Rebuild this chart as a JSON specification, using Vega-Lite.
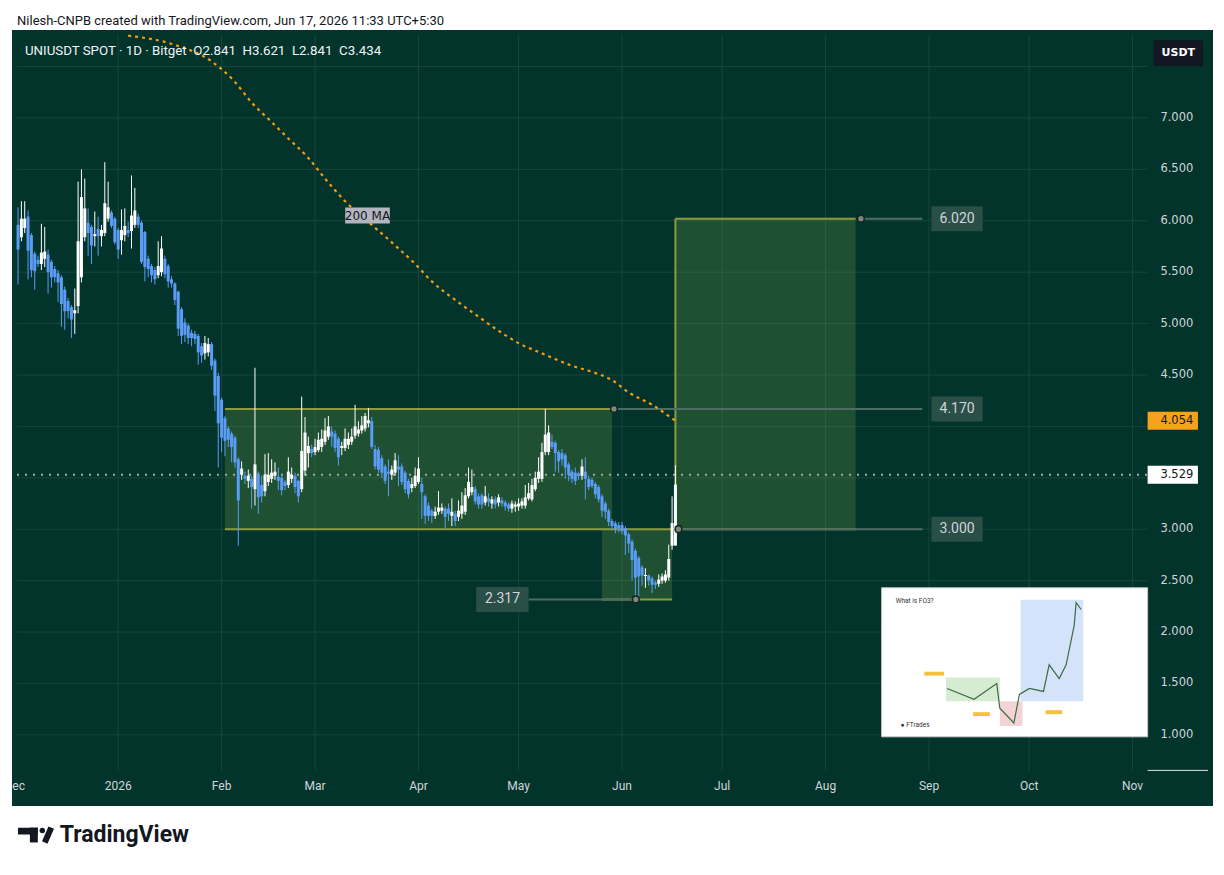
{
"$schema": "https://vega.github.io/schema/vega-lite/v6.json",
"width": 1201, "height": 776,
"autosize": {"type": "none"},
"padding": {"left": 12, "top": 30, "right": 11, "bottom": 69},
"background": "#ffffff",
"config": {"view": {"stroke": null, "fill": "#03342b"}, "text": {"font": "Roboto"}},
"datasets": {
"candles": [
{"date":"2025-12-02","open":5.96,"high":6.13,"low":5.38,"close":5.72},
{"date":"2025-12-03","open":5.84,"high":6.19,"low":5.80,"close":6.02},
{"date":"2025-12-04","open":5.93,"high":6.19,"low":5.88,"close":6.02},
{"date":"2025-12-05","open":6.04,"high":6.10,"low":5.43,"close":5.71},
{"date":"2025-12-06","open":5.86,"high":5.88,"low":5.45,"close":5.52},
{"date":"2025-12-07","open":5.68,"high":5.70,"low":5.33,"close":5.51},
{"date":"2025-12-08","open":5.62,"high":5.66,"low":5.55,"close":5.58},
{"date":"2025-12-09","open":5.58,"high":5.97,"low":5.52,"close":5.69},
{"date":"2025-12-10","open":5.63,"high":5.94,"low":5.55,"close":5.70},
{"date":"2025-12-11","open":5.67,"high":5.72,"low":5.29,"close":5.50},
{"date":"2025-12-12","open":5.60,"high":5.62,"low":5.35,"close":5.45},
{"date":"2025-12-13","open":5.53,"high":5.56,"low":5.40,"close":5.45},
{"date":"2025-12-14","open":5.49,"high":5.52,"low":5.21,"close":5.40},
{"date":"2025-12-15","open":5.45,"high":5.47,"low":4.97,"close":5.19},
{"date":"2025-12-16","open":5.33,"high":5.36,"low":4.94,"close":5.12},
{"date":"2025-12-17","open":5.22,"high":5.25,"low":5.05,"close":5.12},
{"date":"2025-12-18","open":5.16,"high":5.18,"low":4.86,"close":5.04},
{"date":"2025-12-19","open":5.10,"high":5.34,"low":4.90,"close":5.13},
{"date":"2025-12-20","open":5.17,"high":6.38,"low":5.10,"close":5.80},
{"date":"2025-12-21","open":5.45,"high":6.50,"low":5.40,"close":6.23},
{"date":"2025-12-22","open":5.84,"high":6.41,"low":5.80,"close":6.12},
{"date":"2025-12-23","open":5.98,"high":6.12,"low":5.66,"close":5.88},
{"date":"2025-12-24","open":5.94,"high":5.96,"low":5.58,"close":5.76},
{"date":"2025-12-25","open":5.85,"high":6.09,"low":5.75,"close":5.87},
{"date":"2025-12-26","open":5.92,"high":6.04,"low":5.66,"close":5.85},
{"date":"2025-12-27","open":5.85,"high":5.96,"low":5.75,"close":5.91},
{"date":"2025-12-28","open":5.88,"high":6.57,"low":5.85,"close":6.17},
{"date":"2025-12-29","open":6.02,"high":6.38,"low":5.99,"close":6.13},
{"date":"2025-12-30","open":6.08,"high":6.10,"low":5.93,"close":5.95},
{"date":"2025-12-31","open":6.02,"high":6.04,"low":5.77,"close":5.79},
{"date":"2026-01-01","open":5.91,"high":5.93,"low":5.63,"close":5.72},
{"date":"2026-01-02","open":5.81,"high":6.11,"low":5.67,"close":5.91},
{"date":"2026-01-03","open":5.86,"high":6.12,"low":5.80,"close":5.95},
{"date":"2026-01-04","open":5.91,"high":5.99,"low":5.84,"close":5.88},
{"date":"2026-01-05","open":5.90,"high":6.44,"low":5.73,"close":6.05},
{"date":"2026-01-06","open":5.96,"high":6.32,"low":5.93,"close":6.10},
{"date":"2026-01-07","open":6.04,"high":6.07,"low":5.93,"close":5.96},
{"date":"2026-01-08","open":5.98,"high":6.00,"low":5.58,"close":5.60},
{"date":"2026-01-09","open":5.89,"high":5.90,"low":5.41,"close":5.55},
{"date":"2026-01-10","open":5.63,"high":5.66,"low":5.45,"close":5.53},
{"date":"2026-01-11","open":5.56,"high":5.58,"low":5.40,"close":5.47},
{"date":"2026-01-12","open":5.52,"high":5.55,"low":5.38,"close":5.43},
{"date":"2026-01-13","open":5.47,"high":5.80,"low":5.44,"close":5.56},
{"date":"2026-01-14","open":5.50,"high":5.85,"low":5.46,"close":5.73},
{"date":"2026-01-15","open":5.63,"high":5.66,"low":5.44,"close":5.48},
{"date":"2026-01-16","open":5.56,"high":5.58,"low":5.35,"close":5.41},
{"date":"2026-01-17","open":5.43,"high":5.46,"low":5.35,"close":5.39},
{"date":"2026-01-18","open":5.39,"high":5.40,"low":5.18,"close":5.23},
{"date":"2026-01-19","open":5.31,"high":5.32,"low":4.88,"close":4.95},
{"date":"2026-01-20","open":5.14,"high":5.16,"low":4.80,"close":4.88},
{"date":"2026-01-21","open":5.01,"high":5.05,"low":4.82,"close":4.89},
{"date":"2026-01-22","open":4.98,"high":5.00,"low":4.80,"close":4.86},
{"date":"2026-01-23","open":4.91,"high":4.94,"low":4.78,"close":4.86},
{"date":"2026-01-24","open":4.90,"high":4.93,"low":4.80,"close":4.85},
{"date":"2026-01-25","open":4.88,"high":4.90,"low":4.60,"close":4.72},
{"date":"2026-01-26","open":4.78,"high":4.81,"low":4.62,"close":4.69},
{"date":"2026-01-27","open":4.71,"high":4.88,"low":4.65,"close":4.81},
{"date":"2026-01-28","open":4.72,"high":4.86,"low":4.68,"close":4.80},
{"date":"2026-01-29","open":4.80,"high":4.82,"low":4.55,"close":4.59},
{"date":"2026-01-30","open":4.64,"high":4.66,"low":4.15,"close":4.30},
{"date":"2026-01-31","open":4.49,"high":4.52,"low":3.60,"close":4.03},
{"date":"2026-02-01","open":4.26,"high":4.28,"low":3.75,"close":3.89},
{"date":"2026-02-02","open":4.08,"high":4.10,"low":3.71,"close":3.86},
{"date":"2026-02-03","open":3.98,"high":4.00,"low":3.80,"close":3.87},
{"date":"2026-02-04","open":3.93,"high":3.95,"low":3.65,"close":3.80},
{"date":"2026-02-05","open":3.89,"high":3.91,"low":3.60,"close":3.65},
{"date":"2026-02-06","open":3.68,"high":3.70,"low":2.84,"close":3.28},
{"date":"2026-02-07","open":3.53,"high":3.66,"low":3.48,"close":3.59},
{"date":"2026-02-08","open":3.52,"high":3.56,"low":3.44,"close":3.49},
{"date":"2026-02-09","open":3.47,"high":3.58,"low":3.40,"close":3.52},
{"date":"2026-02-10","open":3.49,"high":3.52,"low":3.20,"close":3.41},
{"date":"2026-02-11","open":3.39,"high":4.57,"low":3.23,"close":3.63},
{"date":"2026-02-12","open":3.54,"high":3.56,"low":3.15,"close":3.31},
{"date":"2026-02-13","open":3.43,"high":3.52,"low":3.26,"close":3.32},
{"date":"2026-02-14","open":3.37,"high":3.73,"low":3.32,"close":3.53},
{"date":"2026-02-15","open":3.46,"high":3.74,"low":3.42,"close":3.53},
{"date":"2026-02-16","open":3.49,"high":3.68,"low":3.45,"close":3.55},
{"date":"2026-02-17","open":3.52,"high":3.65,"low":3.48,"close":3.56},
{"date":"2026-02-18","open":3.51,"high":3.60,"low":3.38,"close":3.47},
{"date":"2026-02-19","open":3.50,"high":3.52,"low":3.33,"close":3.38},
{"date":"2026-02-20","open":3.46,"high":3.48,"low":3.38,"close":3.42},
{"date":"2026-02-21","open":3.43,"high":3.70,"low":3.40,"close":3.56},
{"date":"2026-02-22","open":3.49,"high":3.60,"low":3.45,"close":3.53},
{"date":"2026-02-23","open":3.52,"high":3.55,"low":3.35,"close":3.41},
{"date":"2026-02-24","open":3.47,"high":3.48,"low":3.26,"close":3.32},
{"date":"2026-02-25","open":3.39,"high":4.29,"low":3.36,"close":3.76},
{"date":"2026-02-26","open":3.57,"high":4.09,"low":3.52,"close":3.94},
{"date":"2026-02-27","open":3.74,"high":3.90,"low":3.60,"close":3.81},
{"date":"2026-02-28","open":3.78,"high":3.82,"low":3.70,"close":3.74},
{"date":"2026-03-01","open":3.75,"high":3.88,"low":3.72,"close":3.80},
{"date":"2026-03-02","open":3.77,"high":3.94,"low":3.75,"close":3.87},
{"date":"2026-03-03","open":3.80,"high":3.97,"low":3.75,"close":3.88},
{"date":"2026-03-04","open":3.85,"high":4.08,"low":3.82,"close":3.96},
{"date":"2026-03-05","open":3.90,"high":4.10,"low":3.87,"close":4.00},
{"date":"2026-03-06","open":3.95,"high":4.00,"low":3.80,"close":3.90},
{"date":"2026-03-07","open":3.93,"high":3.96,"low":3.75,"close":3.79},
{"date":"2026-03-08","open":3.88,"high":3.90,"low":3.62,"close":3.70},
{"date":"2026-03-09","open":3.79,"high":3.85,"low":3.72,"close":3.81},
{"date":"2026-03-10","open":3.79,"high":3.98,"low":3.76,"close":3.88},
{"date":"2026-03-11","open":3.82,"high":3.94,"low":3.78,"close":3.88},
{"date":"2026-03-12","open":3.85,"high":3.98,"low":3.82,"close":3.90},
{"date":"2026-03-13","open":3.91,"high":4.21,"low":3.88,"close":4.00},
{"date":"2026-03-14","open":3.93,"high":4.05,"low":3.90,"close":3.97},
{"date":"2026-03-15","open":3.96,"high":4.10,"low":3.93,"close":4.01},
{"date":"2026-03-16","open":3.98,"high":4.13,"low":3.95,"close":4.10},
{"date":"2026-03-17","open":4.03,"high":4.18,"low":3.99,"close":4.06},
{"date":"2026-03-18","open":4.05,"high":4.09,"low":3.78,"close":3.80},
{"date":"2026-03-19","open":3.78,"high":3.82,"low":3.58,"close":3.61},
{"date":"2026-03-20","open":3.77,"high":3.80,"low":3.55,"close":3.58},
{"date":"2026-03-21","open":3.69,"high":3.72,"low":3.50,"close":3.55},
{"date":"2026-03-22","open":3.61,"high":3.63,"low":3.44,"close":3.47},
{"date":"2026-03-23","open":3.56,"high":3.68,"low":3.32,"close":3.54},
{"date":"2026-03-24","open":3.53,"high":3.62,"low":3.48,"close":3.58},
{"date":"2026-03-25","open":3.55,"high":3.74,"low":3.52,"close":3.67},
{"date":"2026-03-26","open":3.61,"high":3.72,"low":3.42,"close":3.58},
{"date":"2026-03-27","open":3.61,"high":3.64,"low":3.43,"close":3.46},
{"date":"2026-03-28","open":3.55,"high":3.57,"low":3.35,"close":3.39},
{"date":"2026-03-29","open":3.47,"high":3.49,"low":3.30,"close":3.34},
{"date":"2026-03-30","open":3.40,"high":3.50,"low":3.36,"close":3.44},
{"date":"2026-03-31","open":3.42,"high":3.60,"low":3.40,"close":3.52},
{"date":"2026-04-01","open":3.46,"high":3.70,"low":3.44,"close":3.59},
{"date":"2026-04-02","open":3.44,"high":3.50,"low":3.10,"close":3.36},
{"date":"2026-04-03","open":3.32,"high":3.34,"low":3.05,"close":3.13},
{"date":"2026-04-04","open":3.23,"high":3.26,"low":3.08,"close":3.13},
{"date":"2026-04-05","open":3.18,"high":3.20,"low":3.06,"close":3.13},
{"date":"2026-04-06","open":3.13,"high":3.22,"low":3.10,"close":3.17},
{"date":"2026-04-07","open":3.17,"high":3.37,"low":3.14,"close":3.21},
{"date":"2026-04-08","open":3.18,"high":3.25,"low":3.15,"close":3.21},
{"date":"2026-04-09","open":3.20,"high":3.22,"low":3.00,"close":3.12},
{"date":"2026-04-10","open":3.20,"high":3.25,"low":3.08,"close":3.15},
{"date":"2026-04-11","open":3.13,"high":3.30,"low":3.03,"close":3.17},
{"date":"2026-04-12","open":3.15,"high":3.18,"low":3.03,"close":3.08},
{"date":"2026-04-13","open":3.12,"high":3.28,"low":3.08,"close":3.18},
{"date":"2026-04-14","open":3.15,"high":3.36,"low":3.10,"close":3.23},
{"date":"2026-04-15","open":3.17,"high":3.40,"low":3.14,"close":3.33},
{"date":"2026-04-16","open":3.32,"high":3.60,"low":3.30,"close":3.46},
{"date":"2026-04-17","open":3.36,"high":3.58,"low":3.33,"close":3.41},
{"date":"2026-04-18","open":3.39,"high":3.42,"low":3.24,"close":3.27},
{"date":"2026-04-19","open":3.32,"high":3.35,"low":3.20,"close":3.24},
{"date":"2026-04-20","open":3.33,"high":3.35,"low":3.20,"close":3.24},
{"date":"2026-04-21","open":3.26,"high":3.42,"low":3.23,"close":3.32},
{"date":"2026-04-22","open":3.30,"high":3.35,"low":3.22,"close":3.27},
{"date":"2026-04-23","open":3.25,"high":3.32,"low":3.20,"close":3.29},
{"date":"2026-04-24","open":3.29,"high":3.32,"low":3.20,"close":3.24},
{"date":"2026-04-25","open":3.26,"high":3.34,"low":3.22,"close":3.31},
{"date":"2026-04-26","open":3.28,"high":3.31,"low":3.22,"close":3.25},
{"date":"2026-04-27","open":3.26,"high":3.28,"low":3.18,"close":3.22},
{"date":"2026-04-28","open":3.24,"high":3.26,"low":3.17,"close":3.20},
{"date":"2026-04-29","open":3.20,"high":3.28,"low":3.16,"close":3.25},
{"date":"2026-04-30","open":3.22,"high":3.27,"low":3.17,"close":3.24},
{"date":"2026-05-01","open":3.22,"high":3.30,"low":3.18,"close":3.25},
{"date":"2026-05-02","open":3.23,"high":3.30,"low":3.20,"close":3.27},
{"date":"2026-05-03","open":3.23,"high":3.43,"low":3.20,"close":3.31},
{"date":"2026-05-04","open":3.30,"high":3.45,"low":3.28,"close":3.35},
{"date":"2026-05-05","open":3.29,"high":3.49,"low":3.27,"close":3.43},
{"date":"2026-05-06","open":3.39,"high":3.56,"low":3.37,"close":3.50},
{"date":"2026-05-07","open":3.49,"high":3.70,"low":3.45,"close":3.56},
{"date":"2026-05-08","open":3.49,"high":3.84,"low":3.46,"close":3.75},
{"date":"2026-05-09","open":3.75,"high":4.17,"low":3.72,"close":3.92},
{"date":"2026-05-10","open":3.75,"high":4.01,"low":3.72,"close":3.94},
{"date":"2026-05-11","open":3.85,"high":3.92,"low":3.78,"close":3.80},
{"date":"2026-05-12","open":3.84,"high":3.86,"low":3.56,"close":3.74},
{"date":"2026-05-13","open":3.75,"high":3.77,"low":3.55,"close":3.66},
{"date":"2026-05-14","open":3.74,"high":3.78,"low":3.62,"close":3.68},
{"date":"2026-05-15","open":3.72,"high":3.74,"low":3.49,"close":3.60},
{"date":"2026-05-16","open":3.63,"high":3.65,"low":3.47,"close":3.53},
{"date":"2026-05-17","open":3.56,"high":3.58,"low":3.45,"close":3.49},
{"date":"2026-05-18","open":3.55,"high":3.60,"low":3.43,"close":3.47},
{"date":"2026-05-19","open":3.54,"high":3.56,"low":3.48,"close":3.52},
{"date":"2026-05-20","open":3.52,"high":3.68,"low":3.48,"close":3.61},
{"date":"2026-05-21","open":3.56,"high":3.70,"low":3.29,"close":3.49},
{"date":"2026-05-22","open":3.49,"high":3.52,"low":3.38,"close":3.41},
{"date":"2026-05-23","open":3.48,"high":3.50,"low":3.40,"close":3.42},
{"date":"2026-05-24","open":3.44,"high":3.46,"low":3.30,"close":3.34},
{"date":"2026-05-25","open":3.41,"high":3.43,"low":3.26,"close":3.29},
{"date":"2026-05-26","open":3.32,"high":3.34,"low":3.12,"close":3.18},
{"date":"2026-05-27","open":3.25,"high":3.27,"low":3.10,"close":3.17},
{"date":"2026-05-28","open":3.18,"high":3.20,"low":3.03,"close":3.07},
{"date":"2026-05-29","open":3.08,"high":3.10,"low":2.99,"close":3.03},
{"date":"2026-05-30","open":3.06,"high":3.08,"low":2.96,"close":3.00},
{"date":"2026-05-31","open":3.04,"high":3.07,"low":2.97,"close":3.01},
{"date":"2026-06-01","open":3.04,"high":3.07,"low":2.95,"close":2.98},
{"date":"2026-06-02","open":3.01,"high":3.03,"low":2.75,"close":2.94},
{"date":"2026-06-03","open":2.95,"high":2.97,"low":2.77,"close":2.86},
{"date":"2026-06-04","open":2.88,"high":2.90,"low":2.50,"close":2.70},
{"date":"2026-06-05","open":2.79,"high":2.81,"low":2.317,"close":2.53},
{"date":"2026-06-06","open":2.72,"high":2.74,"low":2.33,"close":2.54},
{"date":"2026-06-07","open":2.63,"high":2.65,"low":2.45,"close":2.55},
{"date":"2026-06-08","open":2.545,"high":2.62,"low":2.43,"close":2.555},
{"date":"2026-06-09","open":2.55,"high":2.56,"low":2.45,"close":2.50},
{"date":"2026-06-10","open":2.52,"high":2.54,"low":2.38,"close":2.46},
{"date":"2026-06-11","open":2.48,"high":2.50,"low":2.42,"close":2.46},
{"date":"2026-06-12","open":2.47,"high":2.56,"low":2.44,"close":2.51},
{"date":"2026-06-13","open":2.50,"high":2.57,"low":2.47,"close":2.54},
{"date":"2026-06-14","open":2.50,"high":2.60,"low":2.48,"close":2.56},
{"date":"2026-06-15","open":2.53,"high":2.85,"low":2.50,"close":2.71},
{"date":"2026-06-16","open":2.84,"high":3.32,"low":2.80,"close":3.06},
{"date":"2026-06-17","open":2.841,"high":3.621,"low":2.841,"close":3.434}
],
"ma": [
{"date":"2026-01-04","ma":7.80},{"date":"2026-01-18","ma":7.71},{"date":"2026-01-29","ma":7.55},{"date":"2026-02-05","ma":7.35},{"date":"2026-02-10","ma":7.15},{"date":"2026-02-16","ma":6.96},{"date":"2026-02-21","ma":6.80},{"date":"2026-02-27","ma":6.61},{"date":"2026-03-04","ma":6.41},{"date":"2026-03-10","ma":6.19},{"date":"2026-03-18","ma":5.96},{"date":"2026-03-25","ma":5.76},{"date":"2026-03-31","ma":5.58},{"date":"2026-04-05","ma":5.41},{"date":"2026-04-12","ma":5.23},{"date":"2026-04-18","ma":5.09},{"date":"2026-04-25","ma":4.93},{"date":"2026-05-01","ma":4.81},{"date":"2026-05-08","ma":4.71},{"date":"2026-05-17","ma":4.59},{"date":"2026-05-24","ma":4.52},{"date":"2026-05-29","ma":4.45},{"date":"2026-06-03","ma":4.33},{"date":"2026-06-10","ma":4.21},{"date":"2026-06-17","ma":4.054}
],
"months": [
{"month":"2025-12-01","label":"Dec"},{"month":"2026-01-01","label":"2026"},{"month":"2026-02-01","label":"Feb"},{"month":"2026-03-01","label":"Mar"},{"month":"2026-04-01","label":"Apr"},{"month":"2026-05-01","label":"May"},{"month":"2026-06-01","label":"Jun"},{"month":"2026-07-01","label":"Jul"},{"month":"2026-08-01","label":"Aug"},{"month":"2026-09-01","label":"Sep"},{"month":"2026-10-01","label":"Oct"},{"month":"2026-11-01","label":"Nov"}
]
},
"layer": [
{"data": {"values": [{"level":1},{"level":1.5},{"level":2},{"level":2.5},{"level":3},{"level":3.5},{"level":4},{"level":4.5},{"level":5},{"level":5.5},{"level":6},{"level":6.5},{"level":7},{"level":7.5}]},
 "mark": {"type": "rule", "color": "#17473c", "strokeWidth": 1},
 "encoding": {
  "y": {"field": "level", "type": "quantitative", "scale": {"domain": [0.3568, 7.8064], "zero": false, "nice": false}, "axis": null},
  "x": {"datum": 1764606643200, "type": "temporal", "scale": {"type": "utc", "domain": [1764606643200, 1795443580800]}, "axis": null},
  "x2": {"datum": 1793880000000}
 }},
{"data": {"name": "months"},
 "transform": [{"filter": "datum.label != 'Dec'"}],
 "mark": {"type": "rule", "color": "#17473c", "strokeWidth": 1},
 "encoding": {
  "x": {"field": "month", "type": "temporal", "scale": {"type": "utc", "domain": [1764606643200, 1795443580800]}, "axis": null},
  "y": {"datum": 0.6544, "type": "quantitative", "scale": {"domain": [0.3568, 7.8064], "zero": false, "nice": false}, "axis": null},
  "y2": {"datum": 7.8064}
 }},
{"data": {"name": "months"},
 "mark": {"type": "text", "color": "#d1d4dc", "fontSize": 12, "font": "Roboto", "align": "center", "baseline": "middle", "clip": true},
 "encoding": {
  "x": {"field": "month", "type": "temporal", "scale": {"type": "utc", "domain": [1764606643200, 1795443580800]}, "axis": null},
  "y": {"datum": 0.5008, "type": "quantitative", "scale": {"domain": [0.3568, 7.8064], "zero": false, "nice": false}, "axis": null},
  "text": {"field": "label"}
 }},
{"data": {"values": [{"tick":1},{"tick":1.5},{"tick":2},{"tick":2.5},{"tick":3},{"tick":4.5},{"tick":5},{"tick":5.5},{"tick":6},{"tick":6.5},{"tick":7}]},
 "mark": {"type": "text", "color": "#d1d4dc", "fontSize": 11.5, "font": "DejaVu Sans", "align": "left", "baseline": "middle"},
 "encoding": {
  "x": {"datum": 1794210912000, "type": "temporal", "scale": {"type": "utc", "domain": [1764606643200, 1795443580800]}, "axis": null},
  "y": {"field": "tick", "type": "quantitative", "scale": {"domain": [0.3568, 7.8064], "zero": false, "nice": false}, "axis": null},
  "text": {"field": "tick", "type": "quantitative", "format": ".3f"}
 }},
{"data": {"values": [{}]},
 "mark": {"type": "rule", "color": "#e0e3eb", "strokeWidth": 1},
 "encoding": {
  "x": {"datum": 1793880000000, "type": "temporal", "scale": {"type": "utc", "domain": [1764606643200, 1795443580800]}, "axis": null},
  "x2": {"datum": 1795443580800},
  "y": {"datum": 0.6544, "type": "quantitative", "scale": {"domain": [0.3568, 7.8064], "zero": false, "nice": false}, "axis": null}
 }},
{"data": {"values": [
  {"start":"2026-02-02","end":"2026-05-29","low":3.0,"high":4.17},
  {"start":"2026-05-26","end":"2026-06-16","low":2.317,"high":3.0},
  {"start":"2026-06-17","end":"2026-08-10","low":3.0,"high":6.02}]},
 "mark": {"type": "rect", "color": "#8bc34a", "opacity": 0.2},
 "encoding": {
  "x": {"field": "start", "type": "temporal", "scale": {"type": "utc", "domain": [1764606643200, 1795443580800]}, "axis": null},
  "x2": {"field": "end"},
  "y": {"field": "low", "type": "quantitative", "scale": {"domain": [0.3568, 7.8064], "zero": false, "nice": false}, "axis": null},
  "y2": {"field": "high"}
 }},
{"data": {"values": [
  {"start":"2026-02-02","end":"2026-05-29","from":4.17,"to":4.17},
  {"start":"2026-02-02","end":"2026-08-10","from":3.0,"to":3.0},
  {"start":"2026-05-26","end":"2026-06-16","from":2.317,"to":2.317},
  {"start":"2026-06-17","end":"2026-08-10","from":6.02,"to":6.02},
  {"start":"2026-06-17","end":"2026-06-17","from":3.0,"to":6.02}]},
 "mark": {"type": "rule", "color": "#8d9b3e", "strokeWidth": 2},
 "encoding": {
  "x": {"field": "start", "type": "temporal", "scale": {"type": "utc", "domain": [1764606643200, 1795443580800]}, "axis": null},
  "x2": {"field": "end"},
  "y": {"field": "from", "type": "quantitative", "scale": {"domain": [0.3568, 7.8064], "zero": false, "nice": false}, "axis": null},
  "y2": {"field": "to"}
 }},
{"data": {"values": [{"last": 3.529}]},
 "mark": {"type": "rule", "color": "#a3a6ad", "strokeWidth": 2, "strokeDash": [2, 6]},
 "encoding": {
  "y": {"field": "last", "type": "quantitative", "scale": {"domain": [0.3568, 7.8064], "zero": false, "nice": false}, "axis": null},
  "x": {"datum": 1764606643200, "type": "temporal", "scale": {"type": "utc", "domain": [1764606643200, 1795443580800]}, "axis": null},
  "x2": {"datum": 1793880000000}
 }},
{"data": {"values": [
  {"start":"2026-08-11T14:00:00Z","end":"2026-08-30","price":6.02},
  {"start":"2026-05-29T14:00:00Z","end":"2026-08-30","price":4.17},
  {"start":"2026-06-17T22:00:00Z","end":"2026-08-30","price":3.0},
  {"start":"2026-05-04","end":"2026-06-05T03:00:00Z","price":2.317}]},
 "mark": {"type": "rule", "color": "#4e6b64", "strokeWidth": 2},
 "encoding": {
  "x": {"field": "start", "type": "temporal", "scale": {"type": "utc", "domain": [1764606643200, 1795443580800]}, "axis": null},
  "x2": {"field": "end"},
  "y": {"field": "price", "type": "quantitative", "scale": {"domain": [0.3568, 7.8064], "zero": false, "nice": false}, "axis": null}
 }},
{"data": {"name": "ma"},
 "mark": {"type": "line", "color": "#f39c12", "strokeWidth": 2.2, "strokeDash": [3, 4], "interpolate": "monotone", "clip": true},
 "encoding": {
  "x": {"field": "date", "type": "temporal", "scale": {"type": "utc", "domain": [1764606643200, 1795443580800]}, "axis": null},
  "y": {"field": "ma", "type": "quantitative", "scale": {"domain": [0.3568, 7.8064], "zero": false, "nice": false}, "axis": null}
 }},
{"data": {"name": "candles"},
 "mark": {"type": "rule", "strokeWidth": 1},
 "encoding": {
  "x": {"field": "date", "type": "temporal", "scale": {"type": "utc", "domain": [1764606643200, 1795443580800]}, "axis": null},
  "y": {"field": "low", "type": "quantitative", "scale": {"domain": [0.3568, 7.8064], "zero": false, "nice": false}, "axis": null},
  "y2": {"field": "high"},
  "color": {"condition": {"test": "datum.close >= datum.open", "value": "#ffffff"}, "value": "#5b9cf6"}
 }},
{"data": {"name": "candles"},
 "mark": {"type": "bar", "width": 3},
 "encoding": {
  "x": {"field": "date", "type": "temporal", "scale": {"type": "utc", "domain": [1764606643200, 1795443580800]}, "axis": null},
  "y": {"field": "open", "type": "quantitative", "scale": {"domain": [0.3568, 7.8064], "zero": false, "nice": false}, "axis": null},
  "y2": {"field": "close"},
  "color": {"condition": {"test": "datum.close >= datum.open", "value": "#ffffff"}, "value": "#5b9cf6"}
 }},
{"data": {"values": [
  {"date":"2026-08-11T14:00:00Z","price":6.02},
  {"date":"2026-05-29T14:00:00Z","price":4.17},
  {"date":"2026-06-17T22:00:00Z","price":3.0},
  {"date":"2026-06-05T03:00:00Z","price":2.317}]},
 "mark": {"type": "point", "filled": true, "fill": "#7d8883", "stroke": "#15241f", "strokeWidth": 1.5, "size": 45, "opacity": 1},
 "encoding": {
  "x": {"field": "date", "type": "temporal", "scale": {"type": "utc", "domain": [1764606643200, 1795443580800]}, "axis": null},
  "y": {"field": "price", "type": "quantitative", "scale": {"domain": [0.3568, 7.8064], "zero": false, "nice": false}, "axis": null}
 }},
{"data": {"values": [
  {"start":"2026-09-01T17:00:00Z","end":"2026-09-17T02:00:00Z","mid":"2026-09-09T10:00:00Z","price":6.02,"label":"6.020"},
  {"start":"2026-09-01T17:00:00Z","end":"2026-09-17T02:00:00Z","mid":"2026-09-09T10:00:00Z","price":4.17,"label":"4.170"},
  {"start":"2026-09-01T17:00:00Z","end":"2026-09-17T02:00:00Z","mid":"2026-09-09T10:00:00Z","price":3.0,"label":"3.000"},
  {"start":"2026-04-18T07:00:00Z","end":"2026-05-04","mid":"2026-04-26T04:00:00Z","price":2.317,"label":"2.317"}]},
 "layer": [
  {"mark": {"type": "bar", "height": 25, "color": "#294f47"},
   "encoding": {
    "x": {"field": "start", "type": "temporal", "scale": {"type": "utc", "domain": [1764606643200, 1795443580800]}, "axis": null},
    "x2": {"field": "end"},
    "y": {"field": "price", "type": "quantitative", "scale": {"domain": [0.3568, 7.8064], "zero": false, "nice": false}, "axis": null}
   }},
  {"mark": {"type": "text", "color": "#d1d4dc", "fontSize": 14, "font": "Roboto", "align": "center", "baseline": "middle"},
   "encoding": {
    "x": {"field": "mid", "type": "temporal", "scale": {"type": "utc", "domain": [1764606643200, 1795443580800]}, "axis": null},
    "y": {"field": "price", "type": "quantitative", "scale": {"domain": [0.3568, 7.8064], "zero": false, "nice": false}, "axis": null},
    "text": {"field": "label"}
   }}
 ]},
{"data": {"values": [{"start":"2026-03-10T01:00:00Z","end":"2026-03-23T10:00:00Z","mid":"2026-03-16T17:00:00Z","price":6.05,"label":"200 MA"}]},
 "layer": [
  {"mark": {"type": "bar", "height": 16, "color": "#b2b5be"},
   "encoding": {
    "x": {"field": "start", "type": "temporal", "scale": {"type": "utc", "domain": [1764606643200, 1795443580800]}, "axis": null},
    "x2": {"field": "end"},
    "y": {"field": "price", "type": "quantitative", "scale": {"domain": [0.3568, 7.8064], "zero": false, "nice": false}, "axis": null}
   }},
  {"mark": {"type": "text", "color": "#131722", "fontSize": 12, "font": "DejaVu Sans", "align": "center", "baseline": "middle"},
   "encoding": {
    "x": {"field": "mid", "type": "temporal", "scale": {"type": "utc", "domain": [1764606643200, 1795443580800]}, "axis": null},
    "y": {"field": "price", "type": "quantitative", "scale": {"domain": [0.3568, 7.8064], "zero": false, "nice": false}, "axis": null},
    "text": {"field": "label"}
   }}
 ]},
{"data": {"values": [{"start":"2026-11-05T12:00:00Z","end":"2026-11-20T14:00:00Z","price":4.054}]},
 "mark": {"type": "bar", "height": 18, "color": "#f7a21b"},
 "encoding": {
  "x": {"field": "start", "type": "temporal", "scale": {"type": "utc", "domain": [1764606643200, 1795443580800]}, "axis": null},
  "x2": {"field": "end"},
  "y": {"field": "price", "type": "quantitative", "scale": {"domain": [0.3568, 7.8064], "zero": false, "nice": false}, "axis": null}
 }},
{"data": {"values": [{"start":"2026-11-05T12:00:00Z","end":"2026-11-20T14:00:00Z","price":3.529}]},
 "mark": {"type": "bar", "height": 18, "color": "#ffffff"},
 "encoding": {
  "x": {"field": "start", "type": "temporal", "scale": {"type": "utc", "domain": [1764606643200, 1795443580800]}, "axis": null},
  "x2": {"field": "end"},
  "y": {"field": "price", "type": "quantitative", "scale": {"domain": [0.3568, 7.8064], "zero": false, "nice": false}, "axis": null}
 }},
{"data": {"values": [{"price":4.054,"label":"4.054"},{"price":3.529,"label":"3.529"}]},
 "mark": {"type": "text", "color": "#131722", "fontSize": 11.5, "font": "DejaVu Sans", "align": "left", "baseline": "middle"},
 "encoding": {
  "x": {"datum": 1794210912000, "type": "temporal", "scale": {"type": "utc", "domain": [1764606643200, 1795443580800]}, "axis": null},
  "y": {"field": "price", "type": "quantitative", "scale": {"domain": [0.3568, 7.8064], "zero": false, "nice": false}, "axis": null},
  "text": {"field": "label"}
 }},
{"data": {"values": [{"start":"2026-11-07T07:00:00Z","end":"2026-11-22T02:00:00Z","mid":"2026-11-14T17:00:00Z","price":7.63,"label":"USDT"}]},
 "layer": [
  {"mark": {"type": "bar", "height": 26, "color": "#131722"},
   "encoding": {
    "x": {"field": "start", "type": "temporal", "scale": {"type": "utc", "domain": [1764606643200, 1795443580800]}, "axis": null},
    "x2": {"field": "end"},
    "y": {"field": "price", "type": "quantitative", "scale": {"domain": [0.3568, 7.8064], "zero": false, "nice": false}, "axis": null}
   }},
  {"mark": {"type": "text", "color": "#ffffff", "fontSize": 11, "fontWeight": "bold", "font": "DejaVu Sans", "align": "center", "baseline": "middle"},
   "encoding": {
    "x": {"field": "mid", "type": "temporal", "scale": {"type": "utc", "domain": [1764606643200, 1795443580800]}, "axis": null},
    "y": {"field": "price", "type": "quantitative", "scale": {"domain": [0.3568, 7.8064], "zero": false, "nice": false}, "axis": null},
    "text": {"field": "label"}
   }}
 ]},
{"data": {"values": [{"start":"2026-08-17T19:12:00Z","end":"2026-11-05T12:00:00Z","low":0.9808,"high":2.4304}]},
 "mark": {"type": "rect", "color": "#ffffff", "stroke": "#c9c9c9", "strokeWidth": 1},
 "encoding": {
  "x": {"field": "start", "type": "temporal", "scale": {"type": "utc", "domain": [1764606643200, 1795443580800]}, "axis": null},
  "x2": {"field": "end"},
  "y": {"field": "low", "type": "quantitative", "scale": {"domain": [0.3568, 7.8064], "zero": false, "nice": false}, "axis": null},
  "y2": {"field": "high"}
 }},
{"data": {"values": [
  {"start":"2026-09-06T02:00:00Z","end":"2026-09-22T05:00:00Z","low":1.3264,"high":1.5568,"part":"accumulation"},
  {"start":"2026-09-22T05:00:00Z","end":"2026-09-29","low":1.0864,"high":1.3264,"part":"manipulation"},
  {"start":"2026-09-28T10:00:00Z","end":"2026-10-17T05:00:00Z","low":1.3264,"high":2.3152,"part":"distribution"},
  {"start":"2026-08-30T14:00:00Z","end":"2026-09-05T12:00:00Z","low":1.576,"high":1.6144,"part":"tag"},
  {"start":"2026-09-14T05:00:00Z","end":"2026-09-19T05:00:00Z","low":1.1824,"high":1.2208,"part":"tag"},
  {"start":"2026-10-05T22:00:00Z","end":"2026-10-10T22:00:00Z","low":1.2016,"high":1.24,"part":"tag"}]},
 "mark": {"type": "rect"},
 "encoding": {
  "x": {"field": "start", "type": "temporal", "scale": {"type": "utc", "domain": [1764606643200, 1795443580800]}, "axis": null},
  "x2": {"field": "end"},
  "y": {"field": "low", "type": "quantitative", "scale": {"domain": [0.3568, 7.8064], "zero": false, "nice": false}, "axis": null},
  "y2": {"field": "high"},
  "color": {"field": "part", "type": "nominal", "scale": {"domain": ["accumulation","manipulation","distribution","tag"], "range": ["#d5ecd2","#f3d3d3","#d5e3fa","#f5c03c"]}, "legend": null}
 }},
{"data": {"values": [
  {"date":"2026-09-06T10:00:00Z","v":1.4512},{"date":"2026-09-14T12:00:00Z","v":1.3456},{"date":"2026-09-21T07:00:00Z","v":1.4992},{"date":"2026-09-22T05:00:00Z","v":1.2592},{"date":"2026-09-26T10:00:00Z","v":1.1152},{"date":"2026-09-28T02:00:00Z","v":1.3936},{"date":"2026-10-01T02:00:00Z","v":1.4512},{"date":"2026-10-05T07:00:00Z","v":1.4224},{"date":"2026-10-07","v":1.6816},{"date":"2026-10-10","v":1.5472},{"date":"2026-10-12T02:00:00Z","v":1.6816},{"date":"2026-10-14T12:00:00Z","v":2.0656},{"date":"2026-10-15T02:00:00Z","v":2.2864},{"date":"2026-10-16T14:00:00Z","v":2.2192}]},
 "mark": {"type": "line", "color": "#3d6b45", "strokeWidth": 1.2},
 "encoding": {
  "x": {"field": "date", "type": "temporal", "scale": {"type": "utc", "domain": [1764606643200, 1795443580800]}, "axis": null},
  "y": {"field": "v", "type": "quantitative", "scale": {"domain": [0.3568, 7.8064], "zero": false, "nice": false}, "axis": null}
 }},
{"data": {"values": [{"date":"2026-08-22","v":2.3056,"label":"What is FO3?"},{"date":"2026-08-23T12:00:00Z","v":1.096,"label":"● FTrades"}]},
 "mark": {"type": "text", "color": "#333333", "fontSize": 6.5, "font": "Roboto", "align": "left", "baseline": "middle"},
 "encoding": {
  "x": {"field": "date", "type": "temporal", "scale": {"type": "utc", "domain": [1764606643200, 1795443580800]}, "axis": null},
  "y": {"field": "v", "type": "quantitative", "scale": {"domain": [0.3568, 7.8064], "zero": false, "nice": false}, "axis": null},
  "text": {"field": "label"}
 }},
{"data": {"values": [{}]},
 "mark": {"type": "text", "text": "Nilesh-CNPB created with TradingView.com, Jun 17, 2026 11:33 UTC+5:30", "color": "#131722", "fontSize": 13, "font": "Roboto", "align": "left", "baseline": "middle"},
 "encoding": {
  "x": {"datum": 1764607680000, "type": "temporal", "scale": {"type": "utc", "domain": [1764606643200, 1795443580800]}, "axis": null},
  "y": {"datum": 7.94, "type": "quantitative", "scale": {"domain": [0.3568, 7.8064], "zero": false, "nice": false}, "axis": null}
 }},
{"data": {"values": [{}]},
 "mark": {"type": "text", "text": "UNIUSDT SPOT · 1D · Bitget\u00a0\u00a0O2.841\u00a0\u00a0H3.621\u00a0\u00a0L2.841\u00a0\u00a0C3.434", "color": "#f0f3fa", "fontSize": 13.3, "font": "Roboto", "align": "left", "baseline": "middle"},
 "encoding": {
  "x": {"datum": 1764812448000, "type": "temporal", "scale": {"type": "utc", "domain": [1764606643200, 1795443580800]}, "axis": null},
  "y": {"datum": 7.652, "type": "quantitative", "scale": {"domain": [0.3568, 7.8064], "zero": false, "nice": false}, "axis": null}
 }},
{"data": {"values": [{}]},
 "mark": {"type": "text", "text": "TradingView", "color": "#131722", "fontSize": 23, "fontWeight": "bold", "font": "Roboto", "align": "left", "baseline": "alphabetic"},
 "encoding": {
  "x": {"datum": 1765711008000, "type": "temporal", "scale": {"type": "utc", "domain": [1764606643200, 1795443580800]}, "axis": null},
  "y": {"datum": -0.0464, "type": "quantitative", "scale": {"domain": [0.3568, 7.8064], "zero": false, "nice": false}, "axis": null}
 }},
{"data": {"values": [{}]},
 "mark": {"type": "rect", "color": "#131722"},
 "encoding": {
  "x": {"datum": 1764632736000, "type": "temporal", "scale": {"type": "utc", "domain": [1764606643200, 1795443580800]}, "axis": null},
  "x2": {"datum": 1765145952000},
  "y": {"datum": 0.0976, "type": "quantitative", "scale": {"domain": [0.3568, 7.8064], "zero": false, "nice": false}, "axis": null},
  "y2": {"datum": 0.0304}
 }},
{"data": {"values": [{}]},
 "mark": {"type": "rect", "color": "#131722"},
 "encoding": {
  "x": {"datum": 1764940320000, "type": "temporal", "scale": {"type": "utc", "domain": [1764606643200, 1795443580800]}, "axis": null},
  "x2": {"datum": 1765145952000},
  "y": {"datum": 0.0976, "type": "quantitative", "scale": {"domain": [0.3568, 7.8064], "zero": false, "nice": false}, "axis": null},
  "y2": {"datum": -0.0464}
 }},
{"data": {"values": [{}]},
 "mark": {"type": "point", "filled": true, "color": "#131722", "size": 30, "opacity": 1},
 "encoding": {
  "x": {"datum": 1765261728000, "type": "temporal", "scale": {"type": "utc", "domain": [1764606643200, 1795443580800]}, "axis": null},
  "y": {"datum": 0.0688, "type": "quantitative", "scale": {"domain": [0.3568, 7.8064], "zero": false, "nice": false}, "axis": null}
 }},
{"data": {"values": [{}]},
 "mark": {"type": "rule", "color": "#131722", "strokeWidth": 6},
 "encoding": {
  "x": {"datum": 1765325664000, "type": "temporal", "scale": {"type": "utc", "domain": [1764606643200, 1795443580800]}, "axis": null},
  "x2": {"datum": 1765492416000},
  "y": {"datum": -0.0464, "type": "quantitative", "scale": {"domain": [0.3568, 7.8064], "zero": false, "nice": false}, "axis": null},
  "y2": {"datum": 0.0976}
 }}
]
}
